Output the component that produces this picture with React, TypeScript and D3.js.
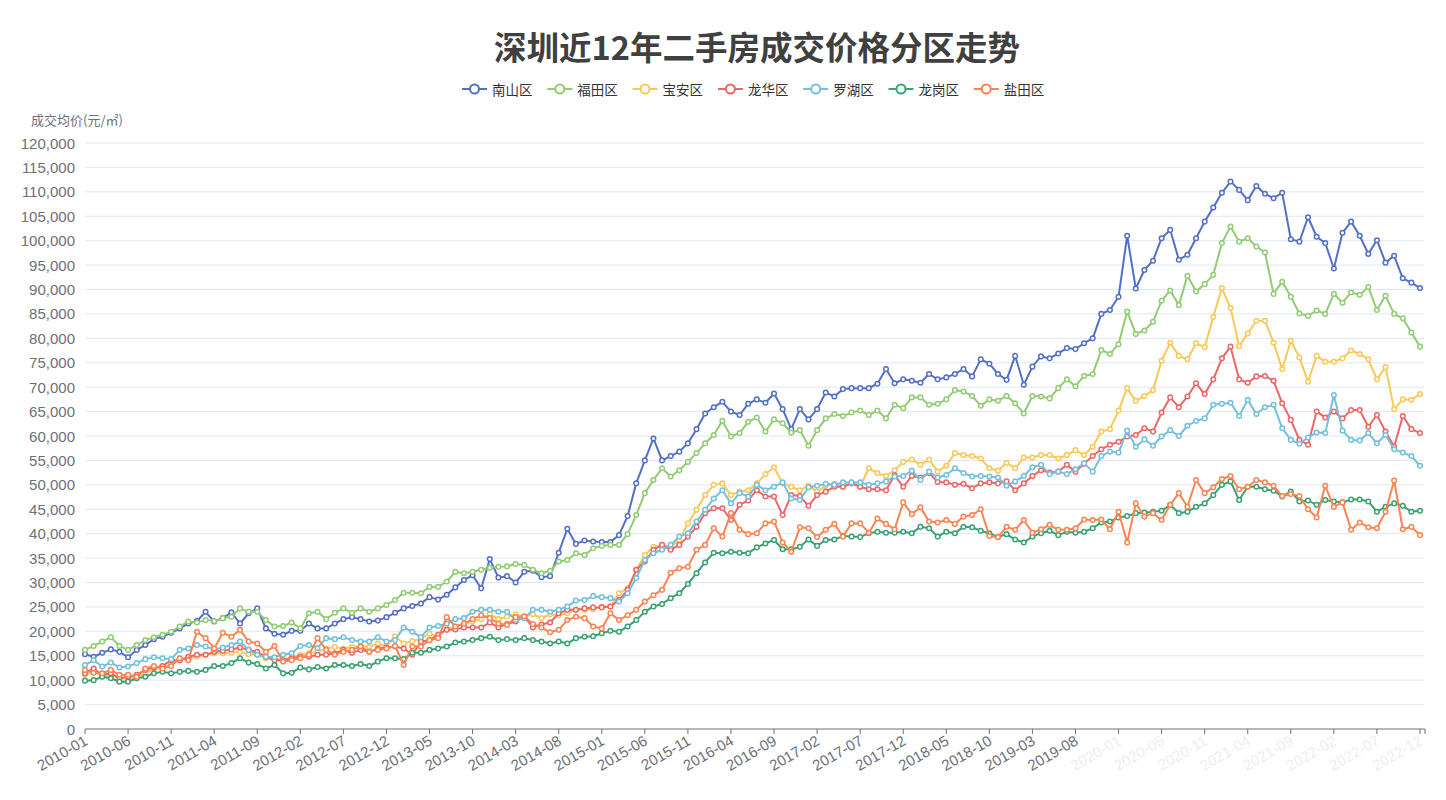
import React from "react";
import * as d3 from "d3";

// Monthly categories 2010-01 .. 2022-12
const startYear = 2010;
const monthCount = 156;
const months: string[] = Array.from({ length: monthCount }, (_, i) => {
  const y = startYear + Math.floor(i / 12);
  const m = (i % 12) + 1;
  return `${y}-${m < 10 ? "0" + m : m}`;
});

const yTicks = [0, 5000, 10000, 15000, 20000, 25000, 30000, 35000, 40000, 45000, 50000, 55000, 60000, 65000, 70000, 75000, 80000, 85000, 90000, 95000, 100000, 105000, 110000, 115000, 120000];

// values in thousand yuan / m²
const nanshan = [
  15.3, 14.8, 15.6, 16.3, 15.8, 14.7, 16.2, 17.2, 18.4, 18.9, 19.7, 20.6, 21.6, 22.1, 24.0, 22.0, 22.7, 23.9, 21.6, 23.7, 24.7, 20.6, 19.5, 19.3, 20.1, 20.1, 21.6, 20.6,
  20.6, 21.6, 22.5, 22.9, 22.5, 22.0, 22.2, 22.9, 23.8, 24.7, 25.2, 25.7, 27.0, 26.5, 27.5, 29.0, 30.5, 31.5, 28.8, 34.8, 31.0, 31.3, 30.0, 32.2, 32.4, 31.1, 31.3,
  36.1, 41.0, 37.9, 38.6, 38.4, 38.3, 38.3, 39.7, 43.6, 50.3, 55.0, 59.5, 55.0, 55.9, 56.8, 58.5, 61.4, 64.6, 65.9, 67.0, 65.0, 64.3, 66.6, 67.5, 66.8,
  68.7, 65.5, 61.4, 65.5, 63.4, 65.5, 68.9, 68.1, 69.6, 69.8, 69.8, 69.8, 70.7, 73.7, 70.8, 71.6, 71.3, 70.9, 72.7, 71.6, 72.0, 72.7, 73.7, 72.2, 75.7, 74.8, 72.7,
  71.5, 76.4, 70.5, 74.2, 76.3, 75.9, 76.9, 78.0, 77.8, 79.0, 80.0, 85.0, 85.8, 88.5, 101.0, 90.2, 94.0, 95.9, 100.5, 102.2, 96.1, 97.1, 100.5, 103.9, 106.8, 109.8,
  112.1, 110.4, 108.3, 111.2, 109.6, 108.7, 109.8, 100.3, 99.8, 104.8, 100.8, 99.5, 94.3, 101.6, 103.9, 101.0, 97.3, 100.1, 95.5, 96.9, 92.3, 91.4, 90.3,
];
const futian = [
  16.2, 17.0, 17.9, 18.8, 17.0, 16.2, 17.2, 18.2, 18.8, 19.3, 19.9, 21.0, 22.0, 21.8, 22.3, 22.1, 22.7, 23.0, 24.7, 24.0, 24.0, 22.3, 21.0, 21.1, 21.8, 20.6, 23.7, 24.0,
  22.5, 23.8, 24.7, 23.8, 24.7, 24.0, 24.7, 25.4, 26.4, 27.9, 27.9, 27.8, 29.1, 29.1, 30.2, 32.2, 31.9, 32.2, 32.6, 33.0, 33.2, 33.3, 33.8, 33.6, 32.6, 31.9, 32.4,
  34.3, 34.6, 36.0, 35.6, 37.0, 37.5, 37.7, 37.7, 39.9, 43.8, 48.3, 51.0, 53.4, 51.7, 53.0, 54.7, 56.5, 58.5, 60.2, 63.1, 59.9, 60.6, 62.9, 63.8, 60.9,
  63.4, 62.6, 60.7, 61.2, 58.0, 61.2, 63.6, 64.5, 64.1, 64.8, 65.2, 64.3, 65.2, 63.6, 66.4, 65.7, 67.9, 67.9, 66.4, 66.6, 67.5, 69.4, 69.1, 68.2, 66.2, 67.5, 67.2,
  68.2, 66.7, 64.6, 68.2, 68.1, 67.7, 69.8, 71.6, 70.2, 72.3, 72.7, 77.6, 76.8, 78.8, 85.5, 80.9, 81.6, 83.4, 87.7, 89.8, 86.8, 92.8, 89.6, 91.1, 93.0, 99.5,
  102.9, 99.8, 100.5, 98.8, 97.6, 89.1, 91.6, 88.5, 85.1, 84.6, 85.7, 85.0, 89.1, 87.3, 89.4, 88.9, 90.5, 85.8, 88.7, 85.0, 84.1, 81.2, 78.3,
];
const baoan = [
  11.1, 11.7, 10.9, 11.1, 10.4, 10.4, 10.7, 11.4, 12.4, 12.4, 13.5, 14.1, 14.5, 14.8, 15.2, 15.5, 15.5, 15.6, 15.8, 15.3, 15.2, 14.5, 14.5, 14.1, 14.8, 15.2, 15.5, 15.8,
  16.5, 16.8, 16.5, 16.8, 17.0, 16.8, 17.5, 17.0, 19.0, 17.5, 18.0, 18.5, 19.5, 19.0, 20.5, 21.0, 21.5, 22.0, 22.5, 23.5, 22.5, 23.0, 23.5, 23.0, 23.5, 22.7, 23.5,
  23.3, 23.7, 24.4, 24.4, 24.5, 25.1, 25.1, 27.8, 28.8, 32.6, 35.6, 37.3, 37.7, 37.3, 38.7, 42.1, 44.9, 47.9, 50.0, 50.3, 47.9, 48.6, 48.9, 50.3, 52.2,
  53.6, 50.3, 49.6, 48.9, 49.8, 48.6, 49.8, 50.2, 49.6, 50.5, 49.6, 53.4, 52.4, 51.8, 53.0, 54.7, 55.2, 54.1, 55.2, 52.7, 53.9, 56.5, 56.1, 55.9, 55.4, 53.4, 52.9,
  54.5, 53.4, 55.6, 55.6, 56.1, 56.1, 55.4, 56.1, 57.1, 56.1, 57.8, 60.9, 61.4, 65.2, 69.8, 67.2, 68.2, 69.4, 75.4, 79.1, 76.4, 75.7, 79.0, 78.2, 84.4, 90.3,
  86.2, 78.4, 81.0, 83.6, 83.6, 79.1, 73.7, 79.5, 76.1, 71.1, 76.4, 75.2, 75.2, 75.9, 77.5, 76.8, 75.7, 71.6, 74.1, 65.5, 67.5, 67.4, 68.6,
];
const longhua = [
  11.4, 12.4, 11.1, 11.4, 10.4, 10.7, 11.1, 12.1, 12.6, 12.9, 14.1, 14.1, 14.8, 15.2, 15.2, 15.8, 16.0, 16.3, 16.7, 16.2, 15.8, 14.8, 14.1, 14.1, 14.5, 14.8, 14.8, 15.2,
  15.2, 15.5, 16.2, 15.6, 16.2, 15.8, 16.5, 16.7, 16.9, 16.5, 15.2, 17.9, 18.2, 19.3, 20.3, 20.4, 20.8, 20.8, 20.8, 21.8, 20.8, 21.5, 22.0, 23.0, 20.8, 21.4, 21.8,
  23.7, 24.4, 24.4, 24.7, 24.9, 24.9, 25.1, 26.4, 28.5, 32.6, 34.3, 36.7, 37.7, 36.7, 37.7, 39.4, 41.4, 44.2, 45.2, 45.2, 42.8, 45.9, 46.8, 48.9, 47.6,
  47.6, 43.8, 47.9, 47.7, 45.7, 47.9, 48.6, 49.6, 49.6, 50.3, 49.6, 49.1, 49.1, 48.9, 52.0, 49.6, 51.8, 51.5, 52.4, 50.6, 50.5, 50.0, 50.2, 49.3, 50.3, 50.5, 50.3,
  50.7, 48.9, 50.3, 51.8, 53.0, 52.5, 52.7, 54.1, 52.7, 54.3, 55.9, 57.3, 58.2, 58.8, 59.9, 60.2, 61.6, 60.9, 64.8, 67.9, 65.9, 68.1, 70.8, 68.6, 71.6, 75.9,
  78.3, 71.6, 70.9, 72.2, 72.3, 71.3, 66.7, 63.3, 59.2, 58.2, 65.0, 63.8, 65.0, 63.6, 65.3, 65.3, 61.9, 64.3, 60.9, 57.8, 64.1, 61.4, 60.6,
];
const luohu = [
  13.1, 14.1, 12.8, 13.6, 12.6, 12.8, 13.5, 14.3, 14.7, 14.5, 14.3, 16.2, 16.5, 17.2, 16.9, 16.3, 16.7, 17.2, 17.9, 16.2, 15.2, 14.8, 14.7, 15.2, 15.5, 17.0, 17.2, 16.6,
  18.6, 18.4, 18.8, 18.2, 17.9, 17.9, 18.8, 17.9, 18.2, 20.8, 19.9, 18.8, 20.8, 21.1, 21.6, 22.5, 22.7, 24.0, 24.4, 24.4, 24.0, 24.0, 22.3, 22.7, 24.4, 24.4, 24.0,
  24.4, 25.1, 26.3, 26.4, 27.2, 27.0, 26.8, 26.1, 27.8, 30.9, 34.6, 36.0, 36.7, 37.7, 39.4, 40.1, 42.5, 44.9, 47.2, 48.9, 46.2, 48.3, 47.6, 50.0, 48.9,
  49.6, 50.5, 47.2, 46.9, 49.5, 49.8, 50.2, 50.0, 50.5, 50.5, 50.5, 50.0, 50.3, 50.7, 51.7, 51.8, 52.9, 51.0, 52.7, 51.5, 52.0, 53.4, 52.4, 51.7, 51.8, 51.7, 51.5,
  49.8, 50.7, 51.8, 53.6, 54.1, 52.2, 52.7, 52.2, 53.2, 54.4, 52.7, 55.9, 56.8, 56.6, 61.1, 57.8, 59.3, 58.0, 59.9, 61.2, 60.0, 62.1, 63.1, 63.6, 66.4, 66.6,
  66.8, 64.1, 67.4, 64.5, 65.9, 66.4, 61.6, 59.2, 58.4, 59.7, 60.7, 60.6, 68.4, 61.1, 59.2, 59.1, 60.6, 58.5, 60.2, 57.3, 56.6, 55.9, 53.9,
];
const longgang = [
  9.9, 10.0, 10.7, 10.4, 9.7, 9.7, 10.4, 10.7, 11.4, 11.7, 11.4, 11.7, 11.9, 11.7, 12.1, 12.9, 12.9, 13.5, 14.5, 13.6, 13.3, 12.4, 13.1, 11.4, 11.5, 12.6, 12.2, 12.7,
  12.4, 13.1, 13.1, 12.9, 13.3, 12.9, 13.8, 14.5, 14.5, 14.3, 15.6, 15.6, 16.2, 16.5, 16.9, 17.7, 17.9, 18.2, 18.6, 18.9, 18.2, 18.4, 18.2, 18.6, 18.2, 17.9, 17.5,
  17.9, 17.5, 18.6, 18.9, 19.0, 19.6, 20.1, 19.9, 21.0, 22.3, 24.0, 25.1, 25.6, 26.8, 27.8, 29.7, 31.9, 34.1, 36.1, 36.0, 36.3, 36.1, 36.0, 37.2, 38.0,
  38.7, 36.8, 36.8, 37.3, 38.8, 37.5, 38.7, 38.8, 39.5, 39.4, 39.3, 40.1, 40.4, 40.2, 40.2, 40.4, 40.1, 41.4, 41.1, 39.4, 40.4, 40.1, 41.4, 41.3, 40.6, 40.1, 39.3,
  39.9, 38.8, 38.2, 39.4, 40.1, 40.6, 39.7, 40.4, 40.2, 40.4, 41.1, 42.3, 42.5, 43.3, 43.6, 44.2, 44.3, 44.5, 44.7, 45.9, 44.2, 44.5, 45.5, 46.2, 47.9, 50.0,
  50.7, 46.9, 49.6, 49.6, 49.1, 48.8, 47.6, 48.6, 46.6, 46.8, 45.9, 46.9, 46.6, 46.4, 47.0, 47.0, 46.6, 44.5, 45.5, 46.2, 45.7, 44.5, 44.7,
];
const yantian = [
  12.1, 11.5, 11.4, 12.1, 11.1, 11.1, 10.7, 12.4, 12.9, 12.4, 12.9, 14.5, 14.1, 19.9, 18.6, 16.5, 19.7, 18.9, 20.3, 17.9, 17.5, 15.8, 17.0, 13.8, 14.1, 14.5, 15.2, 18.6,
  16.2, 15.2, 15.8, 16.2, 16.9, 15.8, 16.2, 16.5, 17.0, 13.1, 16.9, 16.9, 18.2, 18.6, 22.9, 21.0, 21.6, 22.5, 23.3, 22.7, 21.6, 21.3, 22.9, 23.1, 21.5, 20.8, 19.8,
  20.3, 22.3, 23.0, 22.7, 21.0, 20.6, 23.7, 22.3, 23.3, 24.4, 26.1, 27.4, 28.5, 32.0, 32.9, 33.2, 36.7, 37.7, 41.1, 39.4, 44.2, 40.8, 39.9, 40.1, 42.1,
  42.5, 38.2, 36.3, 41.3, 41.1, 39.3, 40.8, 42.0, 39.4, 42.1, 42.1, 40.2, 43.1, 42.0, 40.9, 46.4, 44.0, 45.4, 42.5, 42.3, 42.8, 42.0, 43.5, 43.8, 45.0, 39.5, 39.3,
  41.4, 40.8, 42.8, 40.2, 40.9, 41.8, 40.8, 40.8, 41.1, 42.9, 42.8, 42.9, 40.9, 44.5, 38.2, 46.2, 43.5, 44.2, 42.8, 45.9, 48.3, 45.5, 51.0, 48.3, 49.5, 51.2,
  51.8, 49.1, 49.6, 51.0, 50.5, 49.8, 47.7, 48.1, 47.7, 45.0, 43.3, 49.8, 45.5, 46.4, 40.8, 42.3, 41.3, 41.1, 44.5, 50.9, 40.9, 41.4, 39.7,
];

const seriesNames = ["南山区", "福田区", "宝安区", "龙华区", "罗湖区", "龙岗区", "盐田区"];
const seriesValues = [nanshan, futian, baoan, longhua, luohu, longgang, yantian];
const seriesColors = ["#5470c6", "#91cc75", "#fac858", "#ee6666", "#73c0de", "#3ba272", "#fc8452"];

const W = 1446;
const H = 800;
const left = 85;
const right = 1420;
const top = 143;
const bottom = 729;
const unit = 1000;

export default function App() {
  const x = d3.scalePoint<string>().domain(months).range([left, right]);
  const y = d3.scaleLinear().domain([0, 120000]).range([bottom, top]);
  const fmt = d3.format(",");
  const line = d3
    .line<number>()
    .x((_, i) => x(months[i]) as number)
    .y((v) => y(v * unit));

  const labelIdx = months.map((_, i) => i).filter((i) => i % 5 === 0);
  const hiddenFrom = 120; // labels covered by the blur in the reference
  const fontNum = "'Liberation Sans', Arial, 'Noto Sans CJK SC', sans-serif";
  const fontCJK = "'Noto Sans CJK SC', 'Liberation Sans', sans-serif";

  const legendX0 = 462;
  const legendStep = 85.3;

  return (
    <div style={{ position: "absolute", left: 0, top: 0 }}>
      <svg width={W} height={H} style={{ display: "block", background: "#fff" }}>
        <rect x={0} y={0} width={W} height={H} fill="#fff" />
        <text x={757} y={45} textAnchor="middle" dominantBaseline="central" fontFamily={fontCJK} fontWeight="bold" fontSize={32.5} fill="#404040">
          深圳近12年二手房成交价格分区走势
        </text>

        {seriesNames.map((name, k) => {
          const lx = legendX0 + k * legendStep;
          return (
            <g key={name}>
              <line x1={lx} x2={lx + 25} y1={89} y2={89} stroke={seriesColors[k]} strokeWidth={2} />
              <circle cx={lx + 12.5} cy={89} r={4.5} fill="#fff" stroke={seriesColors[k]} strokeWidth={2} />
              <text x={lx + 30} y={89} dominantBaseline="central" fontFamily={fontCJK} fontSize={13.5} fill="#333">
                {name}
              </text>
            </g>
          );
        })}

        <text x={77} y={119} textAnchor="middle" dominantBaseline="central" fontFamily={fontCJK} fontSize={13} fill="#6e7079">
          成交均价(元/㎡)
        </text>

        {yTicks.map((t) => (
          <g key={t}>
            {t > 0 && <line x1={left} x2={1424} y1={y(t)} y2={y(t)} stroke="#e0e6f1" strokeWidth={1} />}
            <text x={75} y={y(t)} textAnchor="end" dominantBaseline="central" fontFamily={fontNum} fontSize={15} fill="#6e7079">
              {fmt(t)}
            </text>
          </g>
        ))}

        <line x1={left} x2={1425} y1={bottom} y2={bottom} stroke="#6e7079" strokeWidth={1} />
        <line x1={1425} x2={1425} y1={bottom} y2={bottom + 5} stroke="#6e7079" strokeWidth={1} />
        {labelIdx.map((i) => {
          const px = x(months[i]) as number;
          return (
            <g key={months[i]}>
              <line x1={px} x2={px} y1={bottom} y2={bottom + 5} stroke="#6e7079" strokeWidth={1} />
              <text
                transform={`translate(${px + 1},${bottom + 10}) rotate(-30)`}
                textAnchor="end"
                dominantBaseline="central"
                fontFamily={fontNum}
                fontSize={15}
                fill="#6e7079"
                opacity={i >= hiddenFrom ? 0.12 : 1}
              >
                {months[i]}
              </text>
            </g>
          );
        })}

        {seriesValues.map((vals, k) => (
          <g key={seriesNames[k]}>
            <path d={line(vals) || ""} fill="none" stroke={seriesColors[k]} strokeWidth={2} strokeLinejoin="round" />
            {vals.map((v, i) => (
              <circle key={i} cx={x(months[i]) as number} cy={y(v * unit)} r={2.3} fill="#fff" stroke={seriesColors[k]} strokeWidth={1.5} />
            ))}
          </g>
        ))}
      </svg>
    </div>
  );
}
